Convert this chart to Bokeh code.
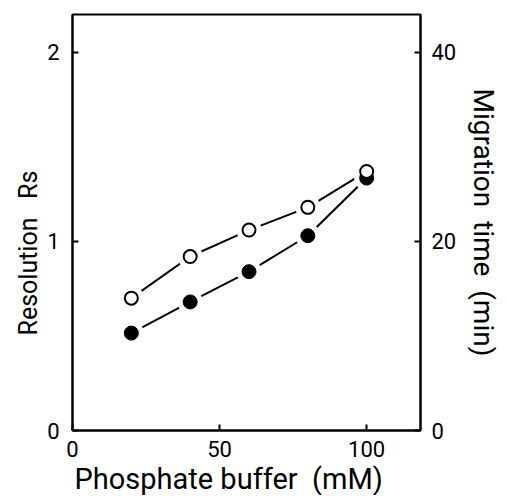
import math
from bokeh.plotting import figure
from bokeh.models import Range1d, LinearAxis, FixedTicker, Title
from bokeh.embed import file_html
from bokeh.resources import INLINE

# ---- data ----
buffer_mM = [20, 40, 60, 80, 100]
resolution_rs = [0.70, 0.92, 1.06, 1.18, 1.37]        # open circles (left axis)
migration_time_min = [10.3, 13.6, 16.8, 20.6, 26.7]   # filled circles (right axis)

x_ticks = [0, 50, 100]
rs_ticks = [0, 1, 2]
time_ticks = [0, 20, 40]

FONT = "Roboto"
SP = "\u00a0"
right_title = "Migration" + SP * 2 + "time" + SP * 2 + "(min)"

p = figure(width=503, height=495, output_backend="svg", toolbar_location=None,
           x_range=Range1d(0, 118.3), y_range=Range1d(0, 2.2))
p.min_border_left = 72
p.min_border_right = 73
p.min_border_top = 14
p.min_border_bottom = 65
p.xgrid.visible = False
p.ygrid.visible = False
p.outline_line_color = "black"
p.outline_line_width = 2
p.background_fill_color = "white"
p.border_fill_color = "white"

p.extra_y_ranges = {"time": Range1d(0, 44)}
right_axis = LinearAxis(y_range_name="time")
p.add_layout(right_axis, "right")


def style_axis(ax, ticks, standoff):
    ax.ticker = FixedTicker(ticks=ticks)
    ax.axis_line_color = "black"
    ax.axis_line_width = 2
    ax.major_tick_line_color = "black"
    ax.major_tick_line_width = 2
    ax.major_tick_in = 6
    ax.major_tick_out = 0
    ax.minor_tick_line_color = None
    ax.major_label_text_font = FONT
    ax.major_label_text_font_size = "22px"
    ax.major_label_text_color = "black"
    ax.major_label_standoff = standoff
    ax.axis_label_text_font = FONT
    ax.axis_label_text_font_size = "28px"
    ax.axis_label_text_font_style = "normal"
    ax.axis_label_text_color = "black"


style_axis(p.xaxis[0], x_ticks, 10)
style_axis(p.yaxis[0], rs_ticks, 13)
style_axis(right_axis, time_ticks, 11)
p.xaxis[0].axis_label = None
p.yaxis[0].axis_label = None
right_axis.axis_label = right_title
right_axis.axis_label_standoff = 8
right_axis.axis_label_orientation = "parallel"

# connecting lines
p.line(buffer_mM, resolution_rs, line_color="black", line_width=2)
p.line(buffer_mM, migration_time_min, line_color="black", line_width=2, y_range_name="time")

# white halos leaving gaps around markers
p.scatter(buffer_mM, resolution_rs, size=25, fill_color="white", line_color=None)
p.scatter(buffer_mM, migration_time_min, size=25, fill_color="white", line_color=None,
          y_range_name="time")

# markers
p.scatter(buffer_mM, migration_time_min, size=14, fill_color="black", line_color="black",
          y_range_name="time")
p.scatter(buffer_mM, resolution_rs, size=13, fill_color="white", line_color="black",
          line_width=2)

# axis titles as side-panel titles (positioned along the frame)
p.add_layout(Title(text="Phosphate buffer" + SP * 2 + "(mM)", align="left", offset=2,
                   text_font=FONT, text_font_size="29px", text_font_style="normal",
                   text_color="black", standoff=0), "below")
p.add_layout(Title(text="Resolution" + SP * 3 + "Rs", align="left", offset=95,
                   text_font=FONT, text_font_size="25px", text_font_style="normal",
                   text_color="black", standoff=4), "left")

open("out.html", "w").write(file_html(p, INLINE))
